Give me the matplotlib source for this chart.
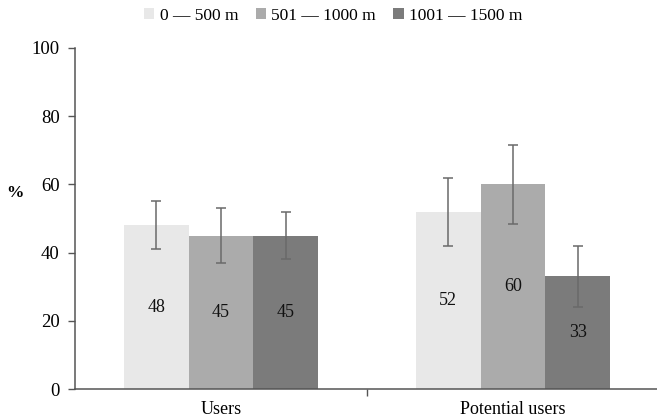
import matplotlib
matplotlib.use("Agg")
import matplotlib.pyplot as plt
import numpy as np

categories = ["Users", "Potential users"]
series_names = ["0 — 500 m", "501 — 1000 m", "1001 — 1500 m"]
values = [[48, 52], [45, 60], [45, 33]]
errors = [[7, 10], [8, 11.5], [7, 9]]
colors = ["#e8e8e8", "#ababab", "#7b7b7b"]
yticks = [0, 20, 40, 60, 80, 100]

plt.rcParams['font.family'] = ['Liberation Serif', 'DejaVu Serif']

fig = plt.figure(figsize=(6.57, 4.2), dpi=100)
ax = fig.add_axes([75/657, 1-389/420, 582/657, (389-48)/420])

x = np.arange(len(categories))
w = 0.222
for i, (name, vals, errs, c) in enumerate(zip(series_names, values, errors, colors)):
    pos = x + (i - 1) * w
    ax.bar(pos, vals, width=w, color=c, label=name, zorder=2)
    ax.errorbar(pos, vals, yerr=errs, fmt='none', ecolor='#6a6a6a', elinewidth=1.1,
                capsize=3.5, capthick=1.1, zorder=3)
    for p, v in zip(pos, vals):
        ax.text(p, v / 2, f"{v}", ha='center', va='center', fontsize=13, color='#111111', zorder=4)

ax.set_xlim(-0.5, -0.5 + 582/292)
ax.set_ylim(0, 100)
ax.set_yticks(yticks)
ax.set_yticklabels([str(t) for t in yticks], fontsize=13.5)
ax.set_xticks(x)
ax.set_xticklabels(categories, fontsize=13)
ax.tick_params(axis='x', length=0, pad=9)
ax.set_xticks([0.5], minor=True)
ax.tick_params(axis='x', which='minor', length=5, color='#555555', width=1)
ax.tick_params(axis='y', length=5, color='#555555', width=1, pad=6)
for s in ['top', 'right']:
    ax.spines[s].set_visible(False)
for s in ['left', 'bottom']:
    ax.spines[s].set_color('#555555')
    ax.spines[s].set_linewidth(1.1)

fig.text(15/657, 1-193/420, "%", fontsize=12.5, fontweight='bold', ha='center', va='center')

leg = fig.legend(loc='center', bbox_to_anchor=(0.507, 1-16/420), ncol=3, frameon=False,
                 fontsize=12.5, handlelength=0.6, handleheight=0.6, handletextpad=0.3,
                 columnspacing=1.0)

fig.savefig("out.png", dpi=100)
